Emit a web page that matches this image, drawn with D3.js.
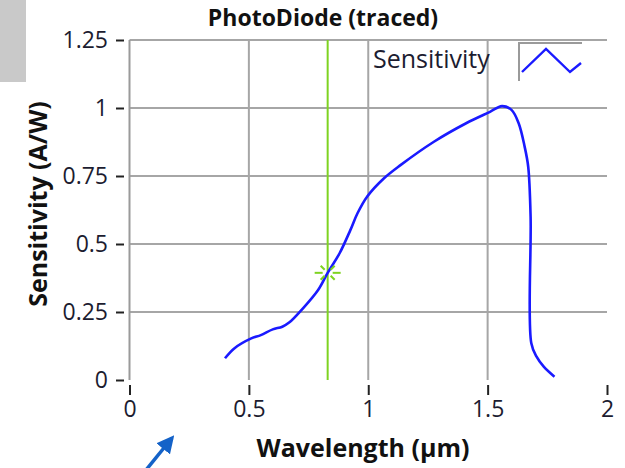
<!DOCTYPE html>
<html>
<head>
<meta charset="utf-8">
<script src="https://cdn.jsdelivr.net/npm/d3@7"></script>
<style>
  body { margin: 0; background: #fff; }
  svg { display: block; }
  .tick text { font-family: "Open Sans", sans-serif; font-size: 23px; fill: #1c1c30; }
  .tick line { stroke: #222; stroke-width: 2; }
</style>
</head>
<body>
<div id="chart"></div>
<script>
// traced photodiode responsivity curve
var wavelength = [0.40, 0.44, 0.51, 0.55, 0.60, 0.64, 0.67, 0.72, 0.79, 0.83, 0.88, 0.925, 0.955, 0.995,
                  1.065, 1.135, 1.275, 1.41, 1.51, 1.56, 1.60, 1.63, 1.655, 1.67, 1.68, 1.683, 1.705, 1.735, 1.78];
var sensitivity = [0.08, 0.117, 0.153, 0.165, 0.186, 0.196, 0.212, 0.257, 0.331, 0.394, 0.466, 0.551, 0.613, 0.674,
                   0.741, 0.79, 0.876, 0.944, 0.986, 1.007, 0.993, 0.944, 0.858, 0.784, 0.60, 0.135, 0.086, 0.049, 0.012];
var xTicks = [0, 0.5, 1, 1.5, 2];
var yTicks = [0, 0.25, 0.5, 0.75, 1, 1.25];
var cursorPoint = [0.83, 0.394];

var width = 625, height = 468;
var plot = {left: 129.5, right: 607, top: 40, bottom: 380};

var svg = d3.select('#chart').append('svg')
    .attr('width', width)
    .attr('height', height);

var x = d3.scaleLinear().domain([0, 2]).range([plot.left, plot.right]);
var y = d3.scaleLinear().domain([0, 1.25]).range([plot.bottom, plot.top]);

// grey block in the corner
svg.append('rect')
    .attr('x', 0).attr('y', 0)
    .attr('width', 26).attr('height', 82)
    .attr('fill', '#c9c9c9');

// grid
svg.append('g').selectAll('line')
    .data(yTicks.filter(function(d) { return d > 0; }))
    .enter().append('line')
    .attr('x1', plot.left).attr('x2', plot.right)
    .attr('y1', function(d) { return y(d); })
    .attr('y2', function(d) { return y(d); })
    .attr('stroke', '#a6a6a6').attr('stroke-width', 2);

svg.append('g').selectAll('line')
    .data(xTicks.filter(function(d) { return d > 0 && d < 2; }))
    .enter().append('line')
    .attr('x1', function(d) { return x(d); })
    .attr('x2', function(d) { return x(d); })
    .attr('y1', plot.top).attr('y2', plot.bottom)
    .attr('stroke', '#a6a6a6').attr('stroke-width', 2);

// y axis line
svg.append('line')
    .attr('x1', plot.left).attr('x2', plot.left)
    .attr('y1', plot.top).attr('y2', plot.bottom)
    .attr('stroke', '#9a9a9a').attr('stroke-width', 2);

// axes (ticks detached from the plot, LabVIEW style)
var yAxis = d3.axisLeft(y).tickValues(yTicks).tickSize(8).tickPadding(8).tickFormat(d3.format(''));
svg.append('g')
    .attr('transform', 'translate(' + [124, 0] + ')')
    .call(yAxis)
    .call(function(g) { g.select('.domain').remove(); });

var xAxis = d3.axisBottom(x).tickValues(xTicks).tickSize(10).tickPadding(6).tickFormat(d3.format(''));
svg.append('g')
    .attr('transform', 'translate(' + [0, 385] + ')')
    .call(xAxis)
    .call(function(g) { g.select('.domain').remove(); });

// cursor
svg.append('line')
    .attr('x1', x(cursorPoint[0])).attr('x2', x(cursorPoint[0]))
    .attr('y1', plot.top).attr('y2', plot.bottom)
    .attr('stroke', '#7ed321').attr('stroke-width', 2);

// curve
var data = wavelength.map(function(d, i) { return [d, sensitivity[i]]; });
var line = d3.line()
    .x(function(d) { return x(d[0]); })
    .y(function(d) { return y(d[1]); })
    .curve(d3.curveCatmullRom.alpha(0.5));

svg.append('path')
    .datum(data)
    .attr('d', line)
    .attr('fill', 'none')
    .attr('stroke', '#1a1aff')
    .attr('stroke-width', 2.6)
    .attr('stroke-linejoin', 'round');

// cursor marker
var cx = x(cursorPoint[0]), cy = y(cursorPoint[1]);
var marker = svg.append('g').attr('stroke', '#7ed321').attr('stroke-width', 2);
marker.append('line').attr('x1', cx - 13).attr('x2', cx - 5).attr('y1', cy).attr('y2', cy);
marker.append('line').attr('x1', cx + 5).attr('x2', cx + 13).attr('y1', cy).attr('y2', cy);
[[-1, -1], [1, -1], [-1, 1], [1, 1]].forEach(function(s) {
    marker.append('line')
        .attr('x1', cx + s[0] * 3).attr('y1', cy + s[1] * 3)
        .attr('x2', cx + s[0] * 7).attr('y2', cy + s[1] * 7);
});

// legend
svg.append('text')
    .attr('x', 373).attr('y', 68)
    .style('font-family', '"Open Sans", sans-serif')
    .style('font-size', '25px')
    .attr('fill', '#1c1c30')
    .text('Sensitivity');
svg.append('path')
    .attr('d', 'M519,81V43H582')
    .attr('fill', 'none').attr('stroke', '#9a9a9a').attr('stroke-width', 2);
svg.append('path')
    .attr('d', 'M522,72L546,49L570,72L581,63')
    .attr('fill', 'none').attr('stroke', '#1a1aff').attr('stroke-width', 2.4);

// title and axis titles
svg.append('text')
    .attr('x', 323).attr('y', 26)
    .attr('text-anchor', 'middle')
    .style('font-family', '"Open Sans", sans-serif')
    .style('font-size', '23px').style('font-weight', 'bold')
    .attr('fill', '#111')
    .text('PhotoDiode (traced)');

svg.append('text')
    .attr('x', 363).attr('y', 457)
    .attr('text-anchor', 'middle')
    .style('font-family', '"Open Sans", sans-serif')
    .style('font-size', '25px').style('font-weight', 'bold')
    .attr('fill', '#111')
    .text('Wavelength (µm)');

svg.append('text')
    .attr('transform', 'translate(' + [47, 204] + ') rotate(-90)')
    .attr('text-anchor', 'middle')
    .style('font-family', '"Open Sans", sans-serif')
    .style('font-size', '25px').style('font-weight', 'bold')
    .attr('fill', '#111')
    .text('Sensitivity (A/W)');

// blue arrow in the corner
svg.append('defs').append('marker')
    .attr('id', 'head')
    .attr('viewBox', '0 0 10 10')
    .attr('refX', 8).attr('refY', 5)
    .attr('markerWidth', 5).attr('markerHeight', 5)
    .attr('orient', 'auto')
    .append('path').attr('d', 'M0,0L10,5L0,10Z').attr('fill', '#1462c8');
svg.append('line')
    .attr('x1', 146).attr('y1', 470)
    .attr('x2', 172).attr('y2', 438)
    .attr('stroke', '#1462c8').attr('stroke-width', 3.5)
    .attr('marker-end', 'url(#head)');
</script>
</body>
</html>
